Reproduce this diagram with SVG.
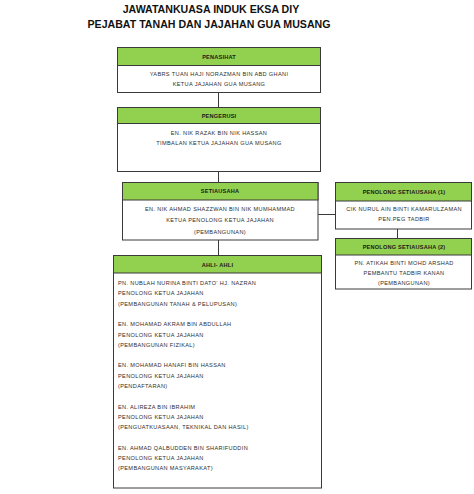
<svg xmlns="http://www.w3.org/2000/svg" width="474" height="494" viewBox="0 0 474 494">
<style>
.title{font-family:"Liberation Sans",Arial,sans-serif;font-weight:bold;font-size:10.6px;fill:#111;text-anchor:middle}
.box{fill:#fff;stroke:#3a3a3a;stroke-width:1}
.hdr{fill:#92d050;stroke:#3a3a3a;stroke-width:1}
.ht{font-family:"Liberation Sans",Arial,sans-serif;font-weight:bold;font-size:5.6px;fill:#1a1a1a;text-anchor:middle;letter-spacing:0.2px}
.bt{font-family:"Liberation Sans",Arial,sans-serif;font-size:5.6px;fill:#2e2e2e;text-anchor:middle;letter-spacing:0.35px}
.bl{font-family:"Liberation Sans",Arial,sans-serif;font-size:5.6px;fill:#2e2e2e;letter-spacing:0.35px}
.con{stroke:#3a3a3a;stroke-width:1;fill:none}
</style>
<rect width="474" height="494" fill="#fff"/>
<text class="title" x="211" y="13">JAWATANKUASA INDUK EKSA DIY</text>
<text class="title" x="209" y="28">PEJABAT TANAH DAN JAJAHAN GUA MUSANG</text>

<g id="connectors">
<line class="con" x1="218.5" y1="93" x2="218.5" y2="107"/>
<line class="con" x1="218.5" y1="172" x2="218.5" y2="182"/>
<line class="con" x1="218.5" y1="240" x2="218.5" y2="255"/>
<line class="con" x1="318" y1="214.5" x2="335" y2="214.5"/>
<line class="con" x1="397.5" y1="229" x2="397.5" y2="238"/>
</g>

<g id="penasihat">
<rect class="box" x="117.5" y="47.5" width="203" height="45"/>
<rect class="hdr" x="117.5" y="47.5" width="203" height="18"/>
<text class="ht" x="219" y="58.5">PENASIHAT</text>
<text class="bt" x="219" y="76">YABRS TUAN HAJI NORAZMAN BIN ABD GHANI</text>
<text class="bt" x="219" y="85.5">KETUA JAJAHAN GUA MUSANG</text>
</g>

<g id="pengerusi">
<rect class="box" x="117.5" y="107.5" width="203" height="64"/>
<rect class="hdr" x="117.5" y="107.5" width="203" height="16"/>
<text class="ht" x="219" y="117.5">PENGERUSI</text>
<text class="bt" x="219" y="135">EN. NIK RAZAK BIN NIK HASSAN</text>
<text class="bt" x="219" y="145">TIMBALAN KETUA JAJAHAN GUA MUSANG</text>
</g>

<g id="setiausaha">
<rect class="box" x="122.5" y="182.5" width="195.5" height="57.5"/>
<rect class="hdr" x="122.5" y="182.5" width="195.5" height="17.5"/>
<text class="ht" x="220" y="193">SETIAUSAHA</text>
<text class="bt" x="220" y="211">EN. NIK AHMAD SHAZZWAN BIN NIK MUMHAMMAD</text>
<text class="bt" x="220" y="222">KETUA PENOLONG KETUA JAJAHAN</text>
<text class="bt" x="220" y="233.5">(PEMBANGUNAN)</text>
</g>

<g id="penolong1">
<rect class="box" x="335.5" y="182.5" width="136" height="46.5"/>
<rect class="hdr" x="335.5" y="182.5" width="136" height="18.5"/>
<text class="ht" x="404" y="193.5">PENOLONG SETIAUSAHA (1)</text>
<text class="bt" x="404" y="211">CIK NURUL AIN BINTI KAMARULZAMAN</text>
<text class="bt" x="404" y="220.5">PEN.PEG TADBIR</text>
</g>

<g id="penolong2">
<rect class="box" x="335.5" y="238.5" width="136" height="50.5"/>
<rect class="hdr" x="335.5" y="238.5" width="136" height="16.5"/>
<text class="ht" x="404" y="248.5">PENOLONG SETIAUSAHA (2)</text>
<text class="bt" x="404" y="265">PN. ATIKAH BINTI MOHD ARSHAD</text>
<text class="bt" x="404" y="275">PEMBANTU TADBIR KANAN</text>
<text class="bt" x="404" y="285">(PEMBANGUNAN)</text>
</g>

<g id="ahli">
<rect class="box" x="113.5" y="255.5" width="208" height="232.5"/>
<rect class="hdr" x="113.5" y="255.5" width="208" height="17.5"/>
<text class="ht" x="217.5" y="266.5">AHLI- AHLI</text>
<text class="bl" x="118" y="285">PN. NUBLAH NURINA BINTI DATO' HJ. NAZRAN</text>
<text class="bl" x="118" y="295.3">PENOLONG KETUA JAJAHAN</text>
<text class="bl" x="118" y="305.6">(PEMBANGUNAN TANAH &amp; PELUPUSAN)</text>
<text class="bl" x="118" y="326.2">EN. MOHAMAD AKRAM BIN ABDULLAH</text>
<text class="bl" x="118" y="336.5">PENOLONG KETUA JAJAHAN</text>
<text class="bl" x="118" y="346.8">(PEMBANGUNAN FIZIKAL)</text>
<text class="bl" x="118" y="367.4">EN. MOHAMAD HANAFI BIN HASSAN</text>
<text class="bl" x="118" y="377.7">PENOLONG KETUA JAJAHAN</text>
<text class="bl" x="118" y="388">(PENDAFTARAN)</text>
<text class="bl" x="118" y="408.6">EN. ALIREZA BIN IBRAHIM</text>
<text class="bl" x="118" y="418.9">PENOLONG KETUA JAJAHAN</text>
<text class="bl" x="118" y="429.2">(PENGUATKUASAAN, TEKNIKAL DAN HASIL)</text>
<text class="bl" x="118" y="449.8">EN. AHMAD QALBUDDEN BIN SHARIFUDDIN</text>
<text class="bl" x="118" y="460.1">PENOLONG KETUA JAJAHAN</text>
<text class="bl" x="118" y="470.4">(PEMBANGUNAN MASYARAKAT)</text>
</g>
</svg>
